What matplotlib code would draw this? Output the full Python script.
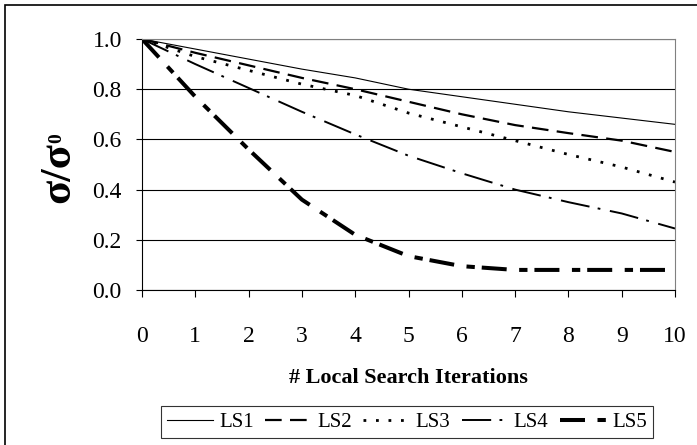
import numpy as np
import matplotlib
matplotlib.use("Agg")
import matplotlib.pyplot as plt
from matplotlib.patches import Rectangle

plt.rcParams['font.family'] = ['Liberation Serif', 'DejaVu Serif']
plt.rcParams['lines.scale_dashes'] = False

# sigma / sigma0 per local search iteration
iters = [0, 1, 2, 3, 4, 5, 6, 7, 8, 9, 10]
ls1 = [1.0, 0.96, 0.92, 0.88, 0.845, 0.80, 0.77, 0.74, 0.71, 0.685, 0.66]
ls2 = [1.0, 0.945, 0.895, 0.845, 0.80, 0.75, 0.70, 0.657, 0.625, 0.595, 0.55]
ls3 = [1.0, 0.93, 0.875, 0.82, 0.775, 0.705, 0.65, 0.595, 0.54, 0.49, 0.43]
ls4 = [1.0, 0.90, 0.805, 0.71, 0.62, 0.535, 0.465, 0.40, 0.35, 0.305, 0.245]
ls5 = [1.0, 0.77, 0.56, 0.36, 0.22, 0.135, 0.095, 0.08, 0.08, 0.08, 0.08]
names = ['LS1', 'LS2', 'LS3', 'LS4', 'LS5']

W, H = 697, 445
fig = plt.figure(figsize=(W/100, H/100), dpi=100)
ax = fig.add_axes([142/W, 1-290/H, 533/W, 251/H])

ax.plot(iters, ls1, color='black', lw=0.8, label=names[0])
ax.plot(iters, ls2, color='black', lw=1.6, dashes=(12, 6), label=names[1])
ax.plot(iters, ls3, color='black', lw=2.0, dashes=(2, 7), label=names[2])
ax.plot(iters, ls4, color='black', lw=1.4, dashes=(21, 6, 2, 7), label=names[3])
ax.plot(iters, ls5, color='black', lw=2.9, dashes=(18, 9, 6, 5), label=names[4])

ax.set_xlim(0, 10)
ax.set_ylim(0, 1.0)
ax.set_xticks(range(0, 11))
yt = np.arange(0, 1.01, 0.2)
ax.set_yticks(yt)
ax.set_yticklabels(['%.1f' % v for v in yt])
ax.yaxis.grid(True, color='black', lw=0.8)
ax.set_axisbelow(True)
ax.tick_params(axis='x', direction='out', length=5, pad=21, labelsize=17, width=0.8)
ax.tick_params(axis='y', direction='out', length=4.5, pad=10, labelsize=17, width=0.8)
for s in ['top', 'right']:
    ax.spines[s].set_color('#808080')
    ax.spines[s].set_linewidth(0.8)
ax.spines['left'].set_linewidth(0.8)
ax.spines['bottom'].set_linewidth(0.8)

ax.set_xlabel('# Local Search Iterations', fontsize=16, fontweight='bold', labelpad=15)

# y label: sigma over sigma-zero, the zero drawn small
fig.text(69/W, 1-203/H, 'σ/σ', rotation=90, rotation_mode='anchor', fontsize=32,
         fontweight='bold', ha='left', va='baseline')
fig.text(61/W, 1-143/H, '0', rotation=90, rotation_mode='anchor', fontsize=14,
         fontweight='bold', ha='left', va='baseline')

leg = fig.legend(loc='center', bbox_to_anchor=(407/W, 1-422/H), ncol=5, fontsize=15,
                 frameon=True, fancybox=False, edgecolor='black', handlelength=2.2,
                 handletextpad=0.3, columnspacing=0.55, borderpad=0.3, borderaxespad=0)
leg.get_frame().set_linewidth(0.8)

# outer frame
fig.patches.append(Rectangle((5/W, -0.1), 1.2, 1-5/H+0.1, transform=fig.transFigure,
                             fill=False, edgecolor='black', lw=1.2))

fig.savefig('out.png', dpi=100)
